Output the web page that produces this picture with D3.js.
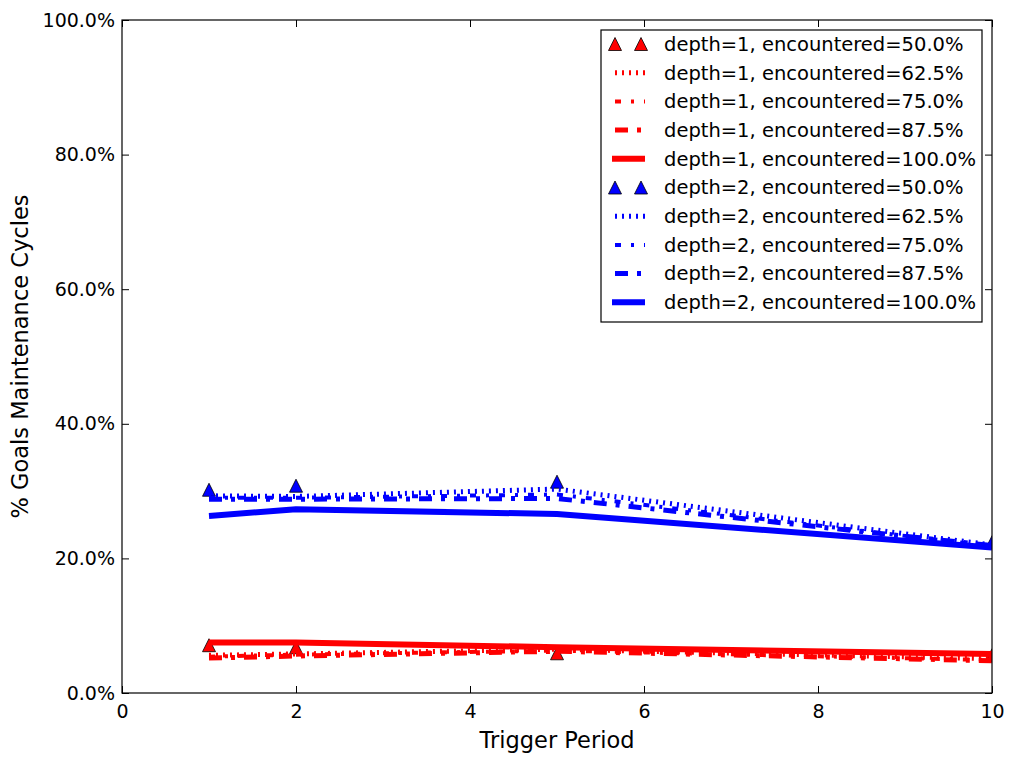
<!DOCTYPE html>
<html>
<head>
<meta charset="utf-8">
<script src="https://cdn.jsdelivr.net/npm/d3@7"></script>
<style>
  body { margin: 0; background: #fff; }
  svg { display: block; font-family: "DejaVu Sans", sans-serif; }
</style>
</head>
<body>
<script>
// trigger periods on the x axis
const periods = [1, 2, 5, 10];
const encountered = ["50.0%", "62.5%", "75.0%", "87.5%", "100.0%"];

// depth=1 series (% of goals maintenance cycles)
const d1_50  = [7.1, 6.8, 5.9, 5.6];
const d1_625 = [5.6, 5.8, 6.5, 5.1];
const d1_75  = [5.4, 5.7, 6.3, 4.9];
const d1_875 = [5.2, 5.5, 6.2, 4.8];
const d1_100 = [7.5, 7.5, 6.8, 5.8];

// depth=2 series
const d2_50  = [30.2, 30.8, 31.4, 22.4];
const d2_625 = [29.3, 29.2, 30.3, 22.0];
const d2_75  = [29.0, 29.0, 29.5, 21.8];
const d2_875 = [28.8, 28.8, 28.9, 21.9];
const d2_100 = [26.3, 27.3, 26.6, 21.6];

const xTicks = [0, 2, 4, 6, 8, 10];
const yTicks = [0, 20, 40, 60, 80, 100];

const width = 1012, height = 759;
const margin = {left: 122, right: 20, top: 20, bottom: 66};

// line styles per encountered level (marker-only for 50%)
const styles = [
  {marker: true},
  {dash: "2,5", w: 5},
  {dash: "6,10,3,10", w: 4},
  {dash: "13,9,4,9", w: 5},
  {dash: null, w: 6}
];

const series = [];
[d1_50, d1_625, d1_75, d1_875, d1_100].forEach((v, i) =>
  series.push({depth: 1, enc: encountered[i], color: "#ff0000", style: styles[i], values: v}));
[d2_50, d2_625, d2_75, d2_875, d2_100].forEach((v, i) =>
  series.push({depth: 2, enc: encountered[i], color: "#0000ff", style: styles[i], values: v}));

const svg = d3.select("body").append("svg")
  .attr("width", width).attr("height", height);

const x = d3.scaleLinear().domain([0, 10]).range([margin.left, width - margin.right]);
const y = d3.scaleLinear().domain([0, 100]).range([height - margin.bottom, margin.top]);

svg.append("defs").append("clipPath").attr("id", "plotclip")
  .append("rect")
  .attr("x", x(0)).attr("y", y(100))
  .attr("width", x(10) - x(0)).attr("height", y(0) - y(100));

const tri = s => `M0,${-s/2}L${s/2},${s/2}L${-s/2},${s/2}Z`;

const plot = svg.append("g").attr("clip-path", "url(#plotclip)");
const line = d3.line().x((d, i) => x(periods[i])).y(d => y(d));

series.forEach(s => {
  if (s.style.marker) {
    plot.append("g").selectAll("path").data(s.values).enter().append("path")
      .attr("d", tri(13))
      .attr("transform", (d, i) => `translate(${x(periods[i])},${y(d)})`)
      .attr("fill", s.color).attr("stroke", "#000").attr("stroke-width", 0.8);
  } else {
    plot.append("path").datum(s.values)
      .attr("d", line)
      .attr("fill", "none")
      .attr("stroke", s.color)
      .attr("stroke-width", s.style.w)
      .attr("stroke-dasharray", s.style.dash)
      .attr("stroke-linejoin", "round");
  }
});

// axes, matplotlib classic style: ticks inside on all four sides
const tickFont = "19px";
svg.append("g").attr("transform", `translate(0,${y(0)})`)
  .call(d3.axisBottom(x).tickValues(xTicks).tickSize(-7).tickPadding(12).tickFormat(d3.format("d")));
svg.append("g").attr("transform", `translate(0,${y(100)})`)
  .call(d3.axisTop(x).tickValues(xTicks).tickSize(-7).tickFormat(""));
svg.append("g").attr("transform", `translate(${x(0)},0)`)
  .call(d3.axisLeft(y).tickValues(yTicks).tickSize(-7).tickPadding(7).tickFormat(d => d.toFixed(1) + "%"));
svg.append("g").attr("transform", `translate(${x(10)},0)`)
  .call(d3.axisRight(y).tickValues(yTicks).tickSize(-7).tickFormat(""));

svg.selectAll(".domain").remove();
svg.selectAll(".tick line").attr("stroke", "#000").attr("stroke-width", 1);
svg.selectAll(".tick text").attr("fill", "#000")
  .style("font-size", tickFont).style("font-family", "DejaVu Sans, sans-serif");

svg.append("rect")
  .attr("x", x(0)).attr("y", y(100))
  .attr("width", x(10) - x(0)).attr("height", y(0) - y(100))
  .attr("fill", "none").attr("stroke", "#000").attr("stroke-width", 1.2);

svg.append("text")
  .attr("x", (x(0) + x(10)) / 2).attr("y", 748)
  .attr("text-anchor", "middle").style("font-size", "22.5px")
  .text("Trigger Period");

svg.append("text")
  .attr("transform", `translate(28,${(y(0) + y(100)) / 2}) rotate(-90)`)
  .attr("text-anchor", "middle").style("font-size", "22.5px")
  .text("% Goals Maintenance Cycles");

// legend
const lg = svg.append("g");
const lx = 601, ly = 30, rowH = 28.7;
lg.append("rect")
  .attr("x", lx).attr("y", ly).attr("width", 381).attr("height", 292)
  .attr("fill", "#fff").attr("stroke", "#000").attr("stroke-width", 1.2);

series.forEach((s, i) => {
  const cy = ly + 14 + i * rowH;
  if (s.style.marker) {
    [615, 641].forEach(mx => lg.append("path")
      .attr("d", tri(13)).attr("transform", `translate(${mx},${cy})`)
      .attr("fill", s.color).attr("stroke", "#000").attr("stroke-width", 0.8));
  } else {
    lg.append("line")
      .attr("x1", s.style.dash ? 615 : 612).attr("x2", 645).attr("y1", cy).attr("y2", cy)
      .attr("stroke", s.color).attr("stroke-width", s.style.w)
      .attr("stroke-dasharray", s.style.dash);
  }
  lg.append("text")
    .attr("x", 664).attr("y", cy).attr("dy", "0.35em")
    .style("font-size", "19.5px")
    .text(`depth=${s.depth}, encountered=${s.enc}`);
});
</script>
</body>
</html>
